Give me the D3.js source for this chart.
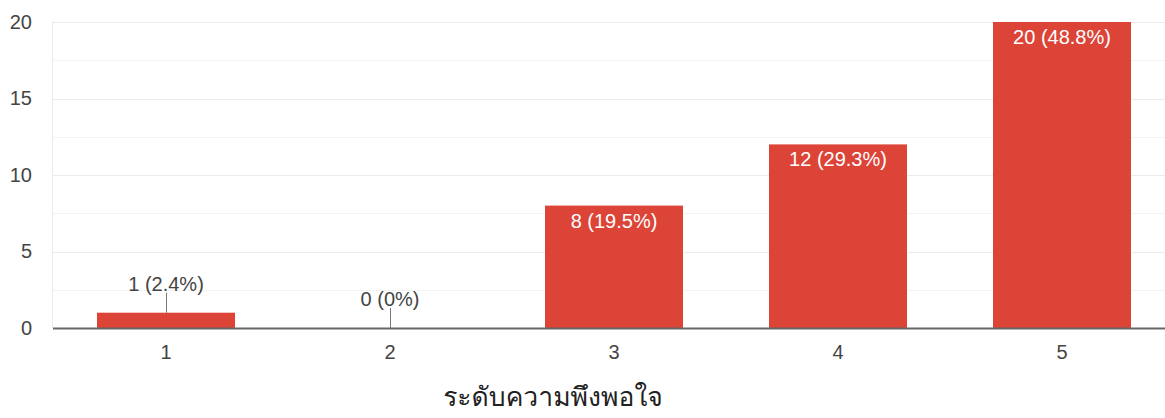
<!DOCTYPE html>
<html>
<head>
<meta charset="utf-8">
<script src="https://cdn.jsdelivr.net/npm/d3@7"></script>
<style>
  html, body { margin: 0; padding: 0; background: #fff; }
  svg { display: block; font-family: Arial, "Liberation Sans", sans-serif; }
</style>
</head>
<body>
<svg id="chart" width="1165" height="418"></svg>
<script>
// Satisfaction ratings (1–5) and response counts
const categories = ["1", "2", "3", "4", "5"];
const counts = [1, 0, 8, 12, 20];
const percents = ["2.4%", "0%", "19.5%", "29.3%", "48.8%"];
const yTicks = [0, 5, 10, 15, 20];
const yMinorTicks = [2.5, 7.5, 12.5, 17.5];
const axisTitle = "ระดับความพึงพอใจ";

const svg = d3.select("#chart");
const plotLeft = 53, plotRight = 1174, plotTop = 22, plotBottom = 328;
const labelSize = 20;

const x = d3.scaleBand().domain(categories).range([plotLeft + 1, plotRight]).paddingInner(0.384).paddingOuter(0.192);
const y = d3.scaleLinear().domain([0, 20]).range([plotBottom, plotTop]);

// minor gridlines
svg.append("g").selectAll("line").data(yMinorTicks).join("line")
  .attr("x1", plotLeft).attr("x2", 1165)
  .attr("y1", d => Math.round(y(d)) + 0.5).attr("y2", d => Math.round(y(d)) + 0.5)
  .attr("stroke", "#f3f3f3").attr("stroke-width", 1);

// major gridlines
svg.append("g").selectAll("line").data(yTicks.filter(d => d > 0)).join("line")
  .attr("x1", plotLeft).attr("x2", 1165)
  .attr("y1", d => Math.round(y(d)) + 0.5).attr("y2", d => Math.round(y(d)) + 0.5)
  .attr("stroke", "#ebebeb").attr("stroke-width", 1);

// left edge of plot area
svg.append("line").attr("x1", plotLeft - 0.5).attr("x2", plotLeft - 0.5)
  .attr("y1", y(20)).attr("y2", plotBottom)
  .attr("stroke", "#ebebeb");

// y axis labels
const yAxis = d3.axisLeft(y).tickValues(yTicks).tickSize(0).tickPadding(0);
const yg = svg.append("g").attr("transform", `translate(${plotLeft - 21},0)`).call(yAxis);
yg.select(".domain").remove();
yg.selectAll("text").attr("font-size", labelSize).attr("fill", "#444")
  .attr("font-family", "Arial, 'Liberation Sans', sans-serif");

// bars
svg.append("g").selectAll("rect").data(counts).join("rect")
  .attr("x", (d, i) => x(categories[i]))
  .attr("width", x.bandwidth())
  .attr("y", d => y(d))
  .attr("height", d => plotBottom - y(d))
  .attr("fill", "#db4437");

// value labels: inside tall bars, above short ones with a leader line
const lbl = svg.append("g");
counts.forEach((d, i) => {
  const cx = x(categories[i]) + x.bandwidth() / 2;
  const text = `${d} (${percents[i]})`;
  const barH = plotBottom - y(d);
  if (barH > 30) {
    lbl.append("text").attr("x", cx).attr("y", y(d) + 22)
      .attr("text-anchor", "middle").attr("font-size", labelSize).attr("fill", "#fff").text(text);
  } else {
    const barTop = y(d);
    lbl.append("line").attr("x1", Math.round(cx) + 0.5).attr("x2", Math.round(cx) + 0.5)
      .attr("y1", barTop - 20).attr("y2", barTop)
      .attr("stroke", "#777").attr("stroke-width", 1);
    lbl.append("text").attr("x", cx).attr("y", barTop - 22)
      .attr("text-anchor", "middle").attr("font-size", labelSize).attr("fill", "#444").text(text);
  }
});

// baseline
svg.append("line").attr("x1", plotLeft).attr("x2", 1165)
  .attr("y1", plotBottom + 0.5).attr("y2", plotBottom + 0.5)
  .attr("stroke", "#666").attr("stroke-width", 2);

// x axis labels
const xAxis = d3.axisBottom(x).tickSize(0).tickPadding(0);
const xg = svg.append("g").attr("transform", `translate(0,${plotBottom + 17})`).call(xAxis);
xg.select(".domain").remove();
xg.selectAll("text").attr("font-size", labelSize).attr("fill", "#444").attr("dy", "0.71em")
  .attr("font-family", "Arial, 'Liberation Sans', sans-serif");

// axis title
svg.append("text").attr("x", 553).attr("y", 406)
  .attr("text-anchor", "middle").attr("font-size", 26.5).attr("fill", "#222")
  .attr("font-family", "Tahoma, Loma, Garuda, 'Noto Sans Thai Looped', 'Noto Sans Thai', 'Noto Sans', 'DejaVu Sans', sans-serif")
  .text(axisTitle);
</script>
</body>
</html>
